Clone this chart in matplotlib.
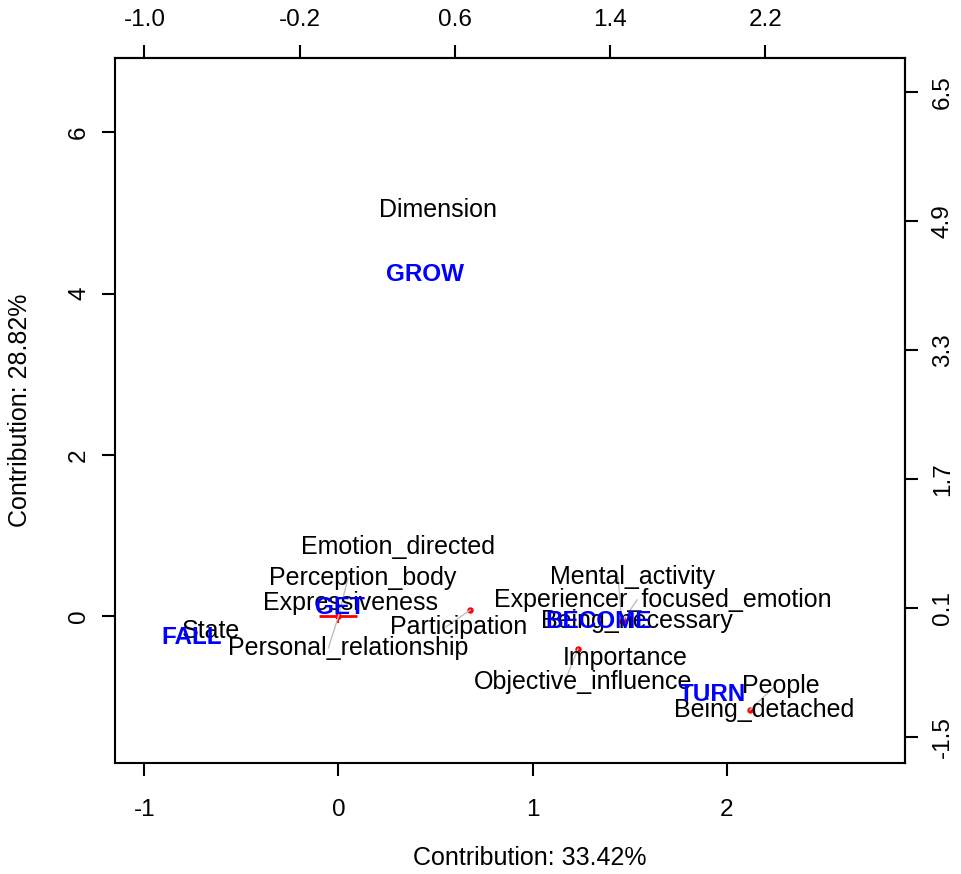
import matplotlib
matplotlib.use("Agg")
import matplotlib.pyplot as plt
from matplotlib.transforms import offset_copy

plt.rcParams['font.family'] = ['Liberation Sans', 'DejaVu Sans']
plt.rcParams['axes.unicode_minus'] = False

# frames (rows) - principal coordinates on dims 1 and 2
frames = ["Dimension", "Emotion_directed", "Perception_body", "Expressiveness",
          "State", "Personal_relationship", "Participation", "Mental_activity",
          "Experiencer_focused_emotion", "Being_necessary", "Importance",
          "Objective_influence", "People", "Being_detached"]
frame_x = [0.469, 0.227, 0.0, -0.005, -0.683, 0.0, 0.679, 1.460,
           1.468, 1.466, 1.428, 1.235, 2.121, 2.124]
frame_y = [5.037, 0.856, 0.0, 0.161, -0.186, 0.0, 0.074, -0.065,
           -0.050, -0.062, -0.521, -0.409, -1.166, -1.166]

# verbs (columns)
verbs = ["GROW", "GET", "FALL", "BECOME", "TURN"]
verb_x = [0.425, -0.010, -0.776, 1.312, 1.907]
verb_y = [4.231, 0.105, -0.261, -0.068, -0.980]

dim1_pct = 33.42
dim2_pct = 28.82
top_ticks = [-1.0, -0.2, 0.6, 1.4, 2.2]
right_ticks = [-1.5, 0.1, 1.7, 3.3, 4.9, 6.5]

# where the word layout moved the frame labels (others sit on their point)
label_pos = {
    "Perception_body": (0.049, 0.471),
    "Personal_relationship": (-0.052, -0.397),
    "Participation": (0.554, -0.136),
    "Mental_activity": (1.441, 0.484),
    "Experiencer_focused_emotion": (1.539, 0.199),
    "Objective_influence": (1.165, -0.819),
    "People": (2.250, -0.868),
}

FS = 18
TICK_FS = 17.5
fig = plt.figure(figsize=(9.61, 8.74), dpi=100)
ax = fig.add_axes([115 / 961, 1 - 763 / 874, 790 / 961, 705 / 874])
ax.set_xlim(-1.152, 2.920)
ax.set_ylim(-1.824, 6.923)

for sp in ax.spines.values():
    sp.set_linewidth(1.5)

# moved labels: red dot on the real position + grey leader line
for name, x, y in zip(frames, frame_x, frame_y):
    if name in label_pos:
        lx, ly = label_pos[name]
        ax.plot(x, y, "o", color="red", ms=3.6, zorder=2)
        ax.plot([x, lx], [y, ly], color="#BEBEBE", lw=1, zorder=3)

# origin marker
ax.plot(0, 0, marker="_", ms=28, mew=2, color="red", zorder=2)
ax.plot(0, 0, marker="|", ms=9.5, mew=1.5, color="red", zorder=2)

for name, x, y in zip(frames, frame_x, frame_y):
    lx, ly = label_pos.get(name, (x, y))
    tr = offset_copy(ax.transData, fig=fig, x=0.95 * len(name), y=0, units="dots")
    ax.text(lx, ly, name, transform=tr, ha="center", va="center",
            fontsize=FS, color="black", zorder=4)

for name, x, y in zip(verbs, verb_x, verb_y):
    tr = offset_copy(ax.transData, fig=fig, x=1.0 * len(name), y=0, units="dots")
    ax.text(x, y, name, transform=tr, ha="center", va="center",
            fontsize=17.5, color="blue", fontweight="bold", zorder=5)

# bottom / left axes
ax.set_xticks([-1, 0, 1, 2])
ax.set_yticks([0, 2, 4, 6])
ax.tick_params(axis="both", length=9.4, width=1.5, labelsize=TICK_FS)
ax.tick_params(axis="x", pad=16.5)
ax.tick_params(axis="y", pad=8.5)
for lbl in ax.get_yticklabels():
    lbl.set_rotation(90)
    lbl.set_va("center")

# top / right axes on the same scale
secx = ax.secondary_xaxis("top")
secx.set_xticks(top_ticks)
secx.set_xticklabels([f"{t:.1f}" for t in top_ticks])
secx.tick_params(length=9.4, width=1.5, labelsize=TICK_FS, pad=10)
secx.spines["top"].set_linewidth(1.5)

secy = ax.secondary_yaxis("right")
secy.set_yticks(right_ticks)
secy.set_yticklabels([f"{t:.1f}" for t in right_ticks])
secy.tick_params(length=9.4, width=1.5, labelsize=TICK_FS, pad=10)
secy.spines["right"].set_linewidth(1.5)
for lbl in secy.get_yticklabels():
    lbl.set_rotation(90)
    lbl.set_va("center")

fig.text(530 / 961, 1 - 858 / 874, f"Contribution: {dim1_pct:.2f}%",
         ha="center", va="center", fontsize=FS)
fig.text(20 / 961, 1 - 410 / 874, f"Contribution: {dim2_pct:.2f}%",
         ha="center", va="center", rotation=90, fontsize=FS)

fig.savefig("out.png", dpi=100)
